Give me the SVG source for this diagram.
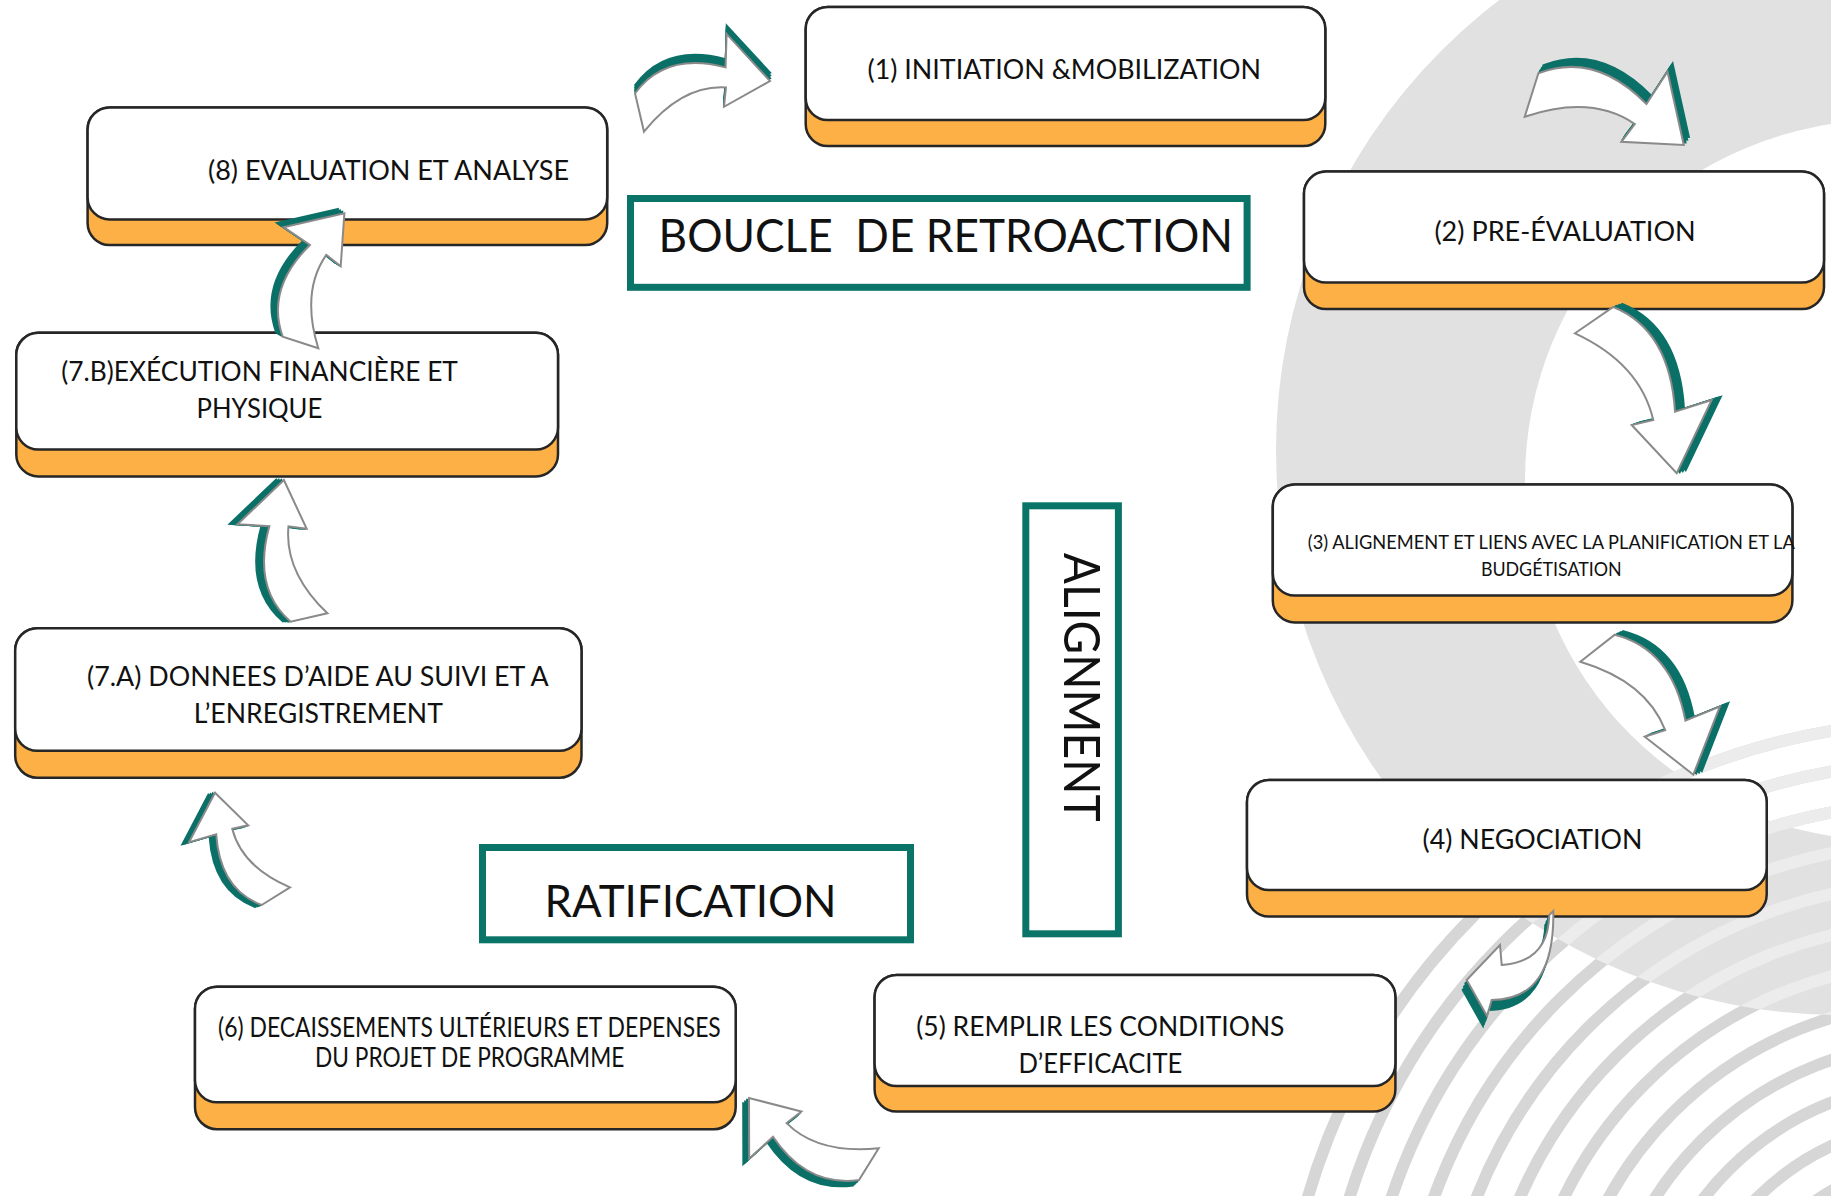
<svg xmlns="http://www.w3.org/2000/svg" xmlns:xlink="http://www.w3.org/1999/xlink" width="1831" height="1196" viewBox="0 0 1831 1196">
  <style>
    .back{fill:#fdb045;stroke:#262626;stroke-width:2.5}
    .front{fill:#ffffff;stroke:#262626;stroke-width:2.5}
    .t{font-family:Lato,"Liberation Sans",sans-serif;font-size:26px;fill:#111111}
    .ts{font-size:18.5px}
    .big{font-size:46px}
    .frame{fill:#ffffff;stroke:#0b7468;stroke-width:7}
    .arw{fill:#ffffff;stroke:#8a8a8a;stroke-width:2;stroke-linejoin:miter}
    .sh{fill:#0b7067;stroke:#0b7067;stroke-width:2}
    .stripe{fill:none;stroke:#d6d6d6;stroke-width:12}
    .stripe-lt{fill:none;stroke:#ececec;stroke-width:12}
  </style>
  <defs>
    <!-- curved block arrow, local frame: tail at origin, head pointing down -->
    <path id="ca" vector-effect="non-scaling-stroke" d="M0,0 L38.3,-26.3 Q95,-3.3 100,78.4 L136.7,66.7 L101.7,140 L56.7,91.7 L78.3,86.7 Q65,30 0,0 Z"/>
    <!-- extruded side of the arrow, built from stacked offsets toward the outer curve -->
    <g id="ca-side">
      <use xlink:href="#ca" transform="translate(9,-3)"/>
      <use xlink:href="#ca" transform="translate(6,-2)"/>
      <use xlink:href="#ca" transform="translate(3,-1)"/>
    </g>
    <path id="ring" fill-rule="evenodd" d="M1276,450 a565,565 0 1,0 1130,0 a565,565 0 1,0 -1130,0 Z M1525,480 a360,360 0 1,0 720,0 a360,360 0 1,0 -720,0 Z"/>
    <clipPath id="ringClip"><use xlink:href="#ring"/></clipPath>
    <g id="ripples">
      <circle cx="1940" cy="1380" r="218"/>
      <circle cx="1940" cy="1380" r="258"/>
      <circle cx="1940" cy="1380" r="298"/>
      <circle cx="1940" cy="1380" r="338"/>
      <circle cx="1940" cy="1380" r="378"/>
      <circle cx="1940" cy="1380" r="418"/>
      <circle cx="1940" cy="1380" r="458"/>
      <circle cx="1940" cy="1380" r="498"/>
      <circle cx="1940" cy="1380" r="538"/>
      <circle cx="1940" cy="1380" r="578"/>
      <circle cx="1940" cy="1380" r="618"/>
      <circle cx="1940" cy="1380" r="658"/>
    </g>
  </defs>

  <!-- background -->
  <g id="background">
    <rect x="0" y="0" width="1831" height="1196" fill="#ffffff"/>
    <use xlink:href="#ripples" class="stripe"/>
    <use xlink:href="#ring" fill="#e1e1e1"/>
    <g clip-path="url(#ringClip)"><use xlink:href="#ripples" class="stripe-lt"/></g>
  </g>

  <!-- phase labels -->
  <g id="label-boucle">
    <rect class="frame" x="630.5" y="198.5" width="616.6" height="88.8"/>
    <text class="t big" x="658.6" y="252" textLength="574.5" lengthAdjust="spacingAndGlyphs" xml:space="preserve" style="white-space:pre">BOUCLE  DE RETROACTION</text>
  </g>
  <g id="label-ratification">
    <rect class="frame" x="482.5" y="847.5" width="428" height="92.3"/>
    <text class="t" style="font-size:45px" x="544.6" y="916.7" textLength="292" lengthAdjust="spacingAndGlyphs">RATIFICATION</text>
  </g>
  <g id="label-alignment">
    <rect class="frame" x="1025.8" y="505.8" width="92.6" height="428"/>
    <text class="t" style="font-size:51px" transform="translate(1063.8,552.7) rotate(90)" x="0" y="0" textLength="269" lengthAdjust="spacingAndGlyphs">ALIGNMENT</text>
  </g>

  <!-- process steps -->
  <g id="step-1">
    <rect class="back" x="805.7" y="7" width="519.6" height="139" rx="22"/>
    <rect class="front" x="805.7" y="7" width="519.6" height="113" rx="22"/>
    <text class="t" x="867.6" y="79" textLength="393.5" lengthAdjust="spacingAndGlyphs">(1) INITIATION &amp;MOBILIZATION</text>
  </g>
  <g id="step-2">
    <rect class="back" x="1304" y="171.6" width="520" height="137.4" rx="22"/>
    <rect class="front" x="1304" y="171.6" width="520" height="111" rx="22"/>
    <text class="t" x="1434.4" y="240.7" textLength="261.3" lengthAdjust="spacingAndGlyphs">(2) PRE-ÉVALUATION</text>
  </g>
  <g id="step-3">
    <rect class="back" x="1272.8" y="484.6" width="519.6" height="137.8" rx="22"/>
    <rect class="front" x="1272.8" y="484.6" width="519.6" height="111" rx="22"/>
    <text class="t ts" x="1307.8" y="549" textLength="487" lengthAdjust="spacingAndGlyphs">(3) ALIGNEMENT ET LIENS AVEC LA PLANIFICATION ET LA</text>
    <text class="t ts" x="1480.9" y="576" textLength="140.8" lengthAdjust="spacingAndGlyphs">BUDGÉTISATION</text>
  </g>
  <g id="step-4">
    <rect class="back" x="1247" y="780" width="519.7" height="136.6" rx="22"/>
    <rect class="front" x="1247" y="780" width="519.7" height="110" rx="22"/>
    <text class="t" x="1422.6" y="849" textLength="219.8" lengthAdjust="spacingAndGlyphs">(4) NEGOCIATION</text>
  </g>
  <g id="step-5">
    <rect class="back" x="874.6" y="975" width="520.8" height="136.6" rx="22"/>
    <rect class="front" x="874.6" y="975" width="520.8" height="111" rx="22"/>
    <text class="t" x="916.3" y="1036" textLength="368.2" lengthAdjust="spacingAndGlyphs">(5) REMPLIR LES CONDITIONS</text>
    <text class="t" x="1018.4" y="1072.7" textLength="164" lengthAdjust="spacingAndGlyphs">D’EFFICACITE</text>
  </g>
  <g id="step-6">
    <rect class="back" x="195" y="986.7" width="540.7" height="142.5" rx="22"/>
    <rect class="front" x="195" y="986.7" width="540.7" height="115.6" rx="22"/>
    <text class="t" x="218.1" y="1036.7" textLength="502.7" lengthAdjust="spacingAndGlyphs">(6) DECAISSEMENTS ULTÉRIEURS ET DEPENSES</text>
    <text class="t" x="315.1" y="1066.7" textLength="309.2" lengthAdjust="spacingAndGlyphs">DU PROJET DE PROGRAMME</text>
  </g>
  <g id="step-7a">
    <rect class="back" x="15.2" y="628.2" width="566.3" height="149.5" rx="22"/>
    <rect class="front" x="15.2" y="628.2" width="566.3" height="122.6" rx="22"/>
    <text class="t" x="87" y="686" textLength="461.8" lengthAdjust="spacingAndGlyphs">(7.A) DONNEES D’AIDE AU SUIVI ET A</text>
    <text class="t" x="193.7" y="722.7" textLength="249.2" lengthAdjust="spacingAndGlyphs">L’ENREGISTREMENT</text>
  </g>
  <g id="step-7b">
    <rect class="back" x="16.3" y="332.8" width="541.7" height="143.6" rx="22"/>
    <rect class="front" x="16.3" y="332.8" width="541.7" height="116.8" rx="22"/>
    <text class="t" x="61.3" y="381" textLength="396.6" lengthAdjust="spacingAndGlyphs">(7.B)EXÉCUTION FINANCIÈRE ET</text>
    <text class="t" x="196.5" y="418" textLength="125.8" lengthAdjust="spacingAndGlyphs">PHYSIQUE</text>
  </g>
  <g id="step-8">
    <rect class="back" x="87.6" y="107.4" width="519.6" height="137.6" rx="22"/>
    <rect class="front" x="87.6" y="107.4" width="519.6" height="112" rx="22"/>
    <text class="t" x="208" y="180" textLength="361" lengthAdjust="spacingAndGlyphs">(8) EVALUATION ET ANALYSE</text>
  </g>

  <!-- connectors: curved block arrows with extruded teal side -->
  <g id="connectors">
    <g id="arrow-8-1" transform="matrix(0.2556,-0.8348,0.7144,0.2443,644,131.7)">
      <use xlink:href="#ca-side" class="sh"/><use xlink:href="#ca" class="arw"/>
    </g>
    <g id="arrow-1-2" transform="matrix(0.7593,-0.6634,0.5848,0.6841,1524.7,116.7)">
      <use xlink:href="#ca-side" class="sh"/><use xlink:href="#ca" class="arw"/>
    </g>
    <g id="arrow-2-3" transform="matrix(1,0,0,1,1575,333.3)">
      <use xlink:href="#ca-side" class="sh"/><use xlink:href="#ca" class="arw"/>
    </g>
    <g id="arrow-3-4" transform="matrix(0.971,-0.1006,0.102,0.880,1580.3,661.7)">
      <use xlink:href="#ca-side" class="sh"/><use xlink:href="#ca" class="arw"/>
    </g>
    <g id="arrow-4-5">
      <path class="sh" transform="translate(-4,10)" d="M1549.3,915 L1553.3,911 Q1555,1000 1491.7,1000 L1487,1016 L1466.7,980 L1500,945 L1501.7,965 Q1548,962 1549.3,915 Z"/>
      <path class="sh" transform="translate(-2.7,6.7)" d="M1549.3,915 L1553.3,911 Q1555,1000 1491.7,1000 L1487,1016 L1466.7,980 L1500,945 L1501.7,965 Q1548,962 1549.3,915 Z"/>
      <path class="sh" transform="translate(-1.3,3.3)" d="M1549.3,915 L1553.3,911 Q1555,1000 1491.7,1000 L1487,1016 L1466.7,980 L1500,945 L1501.7,965 Q1548,962 1549.3,915 Z"/>
      <path class="arw" d="M1549.3,915 L1553.3,911 Q1555,1000 1491.7,1000 L1487,1016 L1466.7,980 L1500,945 L1501.7,965 Q1548,962 1549.3,915 Z"/>
    </g>
    <g id="arrow-5-6" transform="matrix(-0.7676,0.3876,-0.3688,-0.6409,878.7,1148.3)">
      <use xlink:href="#ca-side" class="sh"/><use xlink:href="#ca" class="arw"/>
    </g>
    <g id="arrow-6-7a" transform="matrix(-0.7384,-0.0012,0.0007,-0.6748,290,887.3)">
      <use xlink:href="#ca-side" class="sh"/><use xlink:href="#ca" class="arw"/>
    </g>
    <g id="arrow-7a-7b" transform="matrix(-0.7834,-0.2899,0.2584,-0.7416,327.4,613.3)">
      <use xlink:href="#ca-side" class="sh"/><use xlink:href="#ca" class="arw"/>
    </g>
    <g id="arrow-7b-8" transform="matrix(-0.5348,-0.6439,0.5749,-0.4966,318.3,348.3)">
      <use xlink:href="#ca-side" class="sh"/><use xlink:href="#ca" class="arw"/>
    </g>
  </g>
</svg>
